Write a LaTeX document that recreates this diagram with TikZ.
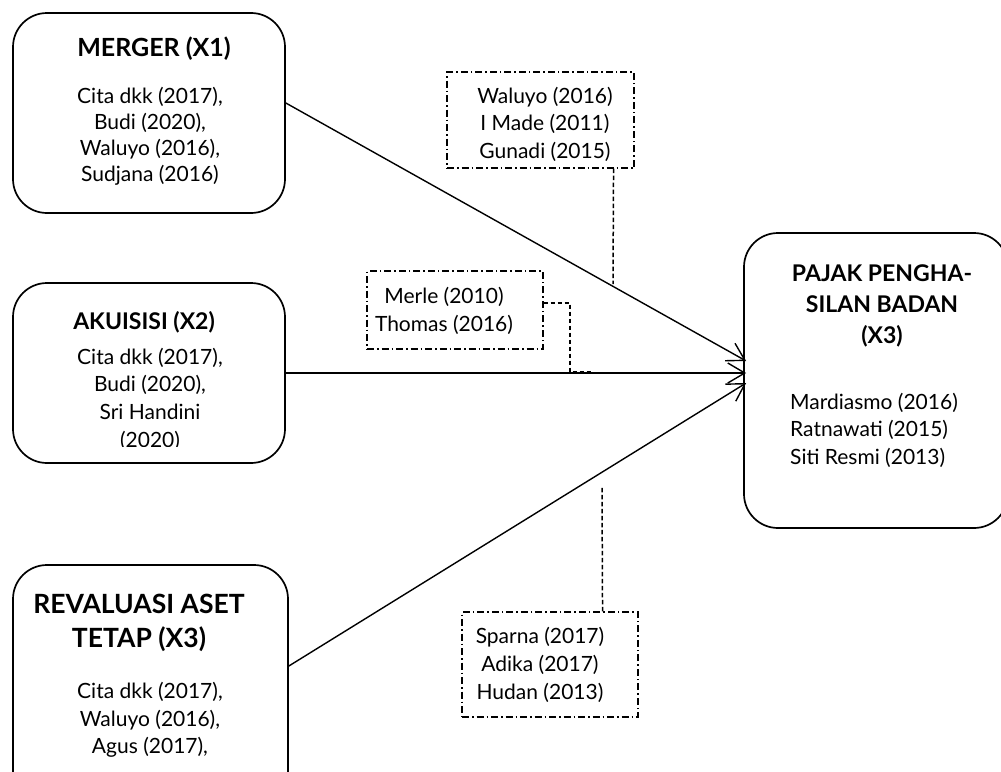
\documentclass[tikz,border=0pt]{standalone}
\usepackage{fontspec}
\setmainfont{Lato}
\usetikzlibrary{arrows.meta,calc}
\begin{document}
\begin{tikzpicture}[x=1pt,y=-1pt,
  box/.style={draw, line width=1.7pt, rounded corners=34pt, inner sep=0pt},
  dbox/.style={draw, line width=1.1pt, dash pattern=on 7pt off 3pt on 1.5pt off 3pt, inner sep=0pt},
  ttl/.style={font=\bfseries\fontsize{23}{31}\selectfont, align=center, inner sep=0pt},
  cit/.style={font=\fontsize{21}{27}\selectfont, align=center, inner sep=0pt},
  citl/.style={font=\fontsize{21}{27.5}\selectfont, align=left, inner sep=0pt},
  arr/.style={line width=1.4pt, -{Straight Barb[length=17pt,width=20pt,line width=1.4pt]}},
  conn/.style={line width=1.5pt, dash pattern=on 4.5pt off 2.5pt}]
\useasboundingbox (0,0) rectangle (1001,771);
% left boxes
\node[box, minimum width=272pt, minimum height=200pt] (m1) at (149,113) {};
\node[ttl, font=\bfseries\fontsize{25}{31}\selectfont] (t1) at (154,49) {MERGER (X1)};
\node[cit, font=\fontsize{21}{26}\selectfont] (c1) at (150,136) {Cita dkk (2017),\\Budi (2020),\\Waluyo (2016),\\Sudjana (2016)};

\node[box, minimum width=272pt, minimum height=180pt] (m2) at (149,373) {};
\node[ttl] (t2) at (144,322) {AKUISISI (X2)};
\begin{scope}
\clip (20,340) rectangle (280,446);
\node[cit, font=\fontsize{21}{27.7}\selectfont] (c2) at (150,399) {Cita dkk (2017),\\Budi (2020),\\Sri Handini\\(2020)};
\end{scope}

\node[box, minimum width=275pt, minimum height=240pt] (m3) at (150.5,685) {};
\node[ttl, font=\bfseries\fontsize{26.5}{34}\selectfont] (t3) at (139,623) {REVALUASI ASET\\TETAP (X3)};
\node[cit, font=\fontsize{21}{27.5}\selectfont] (c3) at (150,720) {Cita dkk (2017),\\Waluyo (2016),\\Agus (2017),};

% right box
\node[box, minimum width=264pt, minimum height=295pt] (pb) at (876,380.5) {};
\node[ttl] (pt) at (882,306) {PAJAK PENGHA-\\SILAN BADAN\\(X3)};
\node[citl, anchor=west] (pc) at (790,430) {Mardiasmo (2016)\\Ratnawati (2015)\\Siti Resmi (2013)};

% dashed boxes
\node[dbox, minimum width=187pt, minimum height=96pt] (dA) at (540.5,120) {};
\node[cit, font=\fontsize{21}{27.5}\selectfont] (tA) at (545,124) {Waluyo (2016)\\I Made (2011)\\Gunadi (2015)};
\node[dbox, minimum width=176pt, minimum height=78pt] (dB) at (455,310) {};
\node[cit, font=\fontsize{21}{28}\selectfont] (tB) at (444,311) {Merle (2010)\\Thomas (2016)};
\node[dbox, minimum width=176pt, minimum height=105pt] (dC) at (550,664.5) {};
\node[cit, font=\fontsize{21}{28}\selectfont] (tC) at (540,665) {Sparna (2017)\\Adika (2017)\\Hudan (2013)};

% arrows
\draw[arr] ($(m1.east)+(0,-10)$) -- ($(pb.west)+(3,-19.5)$);
\draw[arr] (m2.east) -- ($(pb.west)+(3,-7.5)$);
\draw[arr] ($(m3.east)+(0,-19)$) -- ($(pb.west)+(3,2.5)$);

% dashed connectors
\coordinate (jA) at (613,284);
\draw[conn] ($(dA.south east)+(-21,0)$) -- (jA);
\coordinate (jB) at (593,372);
\draw[conn] ($(dB.east)+(0,-7)$) -| ($(jB)+(-23,0)$) -- (jB);
\coordinate (jC) at (602,487);
\draw[conn] ($(dC.north east)+(-36,0)$) -- (jC);
\end{tikzpicture}
\end{document}
